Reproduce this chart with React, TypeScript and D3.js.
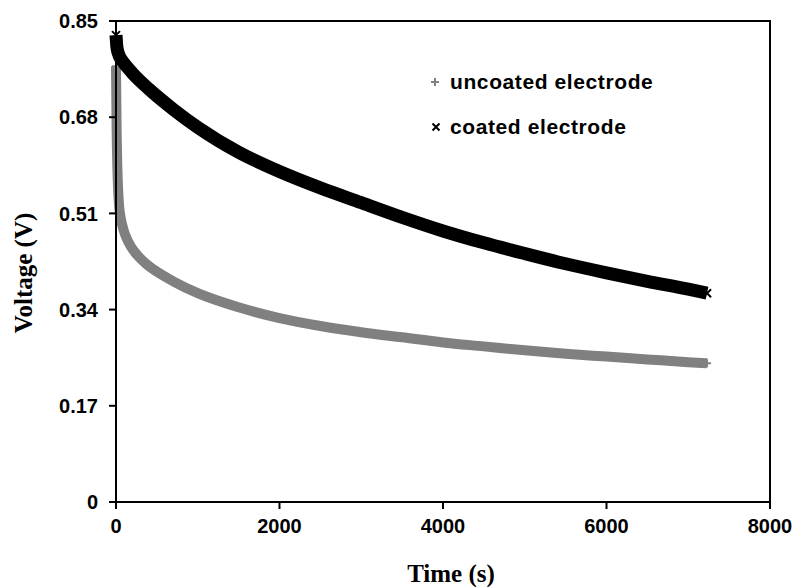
import React from "react";
import * as d3 from "d3";

const uncoatedTime = [0, 2, 4, 6, 8, 10, 13, 16, 20, 25, 30, 40, 60, 90, 130, 180, 250, 360, 500, 700, 1000, 1500, 2000, 2500, 3000, 3500, 4000, 4500, 5000, 5500, 6000, 6500, 7000, 7230];
const uncoatedVoltage = [0.77, 0.74, 0.71, 0.68, 0.655, 0.635, 0.615, 0.595, 0.575, 0.555, 0.54, 0.52, 0.5, 0.482, 0.466, 0.452, 0.438, 0.422, 0.407, 0.39, 0.369, 0.344, 0.325, 0.311, 0.3, 0.291, 0.282, 0.275, 0.268, 0.262, 0.257, 0.252, 0.247, 0.245];

const coatedTime = [0, 5, 10, 30, 60, 100, 200, 400, 700, 1000, 1500, 2000, 2500, 3000, 3500, 4000, 4500, 5000, 5500, 6000, 6500, 7000, 7230];
const coatedVoltage = [0.825, 0.815, 0.805, 0.792, 0.783, 0.775, 0.758, 0.73, 0.694, 0.662, 0.618, 0.584, 0.555, 0.529, 0.503, 0.479, 0.458, 0.439, 0.421, 0.405, 0.39, 0.376, 0.369];

const xTicks = [0, 2000, 4000, 6000, 8000];
const yTicks = [0, 0.17, 0.34, 0.51, 0.68, 0.85];
const yTickLabels = ["0", "0.17", "0.34", "0.51", "0.68", "0.85"];
const seriesNames = ["uncoated electrode", "coated electrode"];

const W = 796;
const H = 587;
const L = 116, R = 770, T = 21, B = 502;

export default function App() {
  const x = d3.scaleLinear().domain([0, 8000]).range([L, R]);
  const y = d3.scaleLinear().domain([0, 0.85]).range([B, T]);

  const unc = uncoatedTime.map((t, i) => [t, uncoatedVoltage[i]] as [number, number]);
  const coa = coatedTime.map((t, i) => [t, coatedVoltage[i]] as [number, number]);

  const line = d3
    .line<[number, number]>()
    .x((d) => x(d[0]))
    .y((d) => y(d[1]))
    .curve(d3.curveMonotoneX);

  const plus = (cx: number, cy: number, s: number) =>
    `M${cx - s},${cy}H${cx + s}M${cx},${cy - s}V${cy + s}`;
  const cross = (cx: number, cy: number, s: number) =>
    `M${cx - s},${cy - s}L${cx + s},${cy + s}M${cx - s},${cy + s}L${cx + s},${cy - s}`;

  const gray = "#808080";
  const tickFont = "'Liberation Sans', Arial, sans-serif";
  const titleFont = "'Liberation Serif', 'Times New Roman', serif";

  return (
    <svg
      width={W}
      height={H}
      style={{ position: "absolute", left: 0, top: 0, background: "#fff" }}
    >
      <rect x={0} y={0} width={W} height={H} fill="#fff" />
      {/* data: uncoated */}
      <path d={line(unc) || ""} fill="none" stroke={gray} strokeWidth={10} />
      {unc.map((d, i) => (
        <path key={"u" + i} d={plus(x(d[0]), y(d[1]), 4)} stroke={gray} strokeWidth={2} fill="none" />
      ))}
      {/* data: coated */}
      <path d={line(coa) || ""} fill="none" stroke="#000" strokeWidth={13} />
      {coa.map((d, i) => (
        <path key={"c" + i} d={cross(x(d[0]), y(d[1]), 4)} stroke="#000" strokeWidth={2} fill="none" />
      ))}

      {/* frame */}
      <rect x={L} y={T} width={R - L} height={B - T} fill="none" stroke="#000" strokeWidth={2} />

      {/* y ticks */}
      {yTicks.map((v, i) => (
        <g key={"yt" + i}>
          <line x1={L - 7} x2={L} y1={y(v)} y2={y(v)} stroke="#000" strokeWidth={2} />
          <text
            x={98}
            y={y(v)}
            dy="0.36em"
            textAnchor="end"
            fontFamily={tickFont}
            fontWeight="bold"
            fontSize={20}
          >
            {yTickLabels[i]}
          </text>
        </g>
      ))}

      {/* x ticks */}
      {xTicks.map((v, i) => (
        <g key={"xt" + i}>
          <line x1={x(v)} x2={x(v)} y1={B} y2={B + 7} stroke="#000" strokeWidth={2} />
          <text
            x={x(v)}
            y={533}
            textAnchor="middle"
            fontFamily={tickFont}
            fontWeight="bold"
            fontSize={20}
          >
            {v}
          </text>
        </g>
      ))}

      {/* axis titles */}
      <text x={451} y={582} textAnchor="middle" fontFamily={titleFont} fontWeight="bold" fontSize={25}>
        Time (s)
      </text>
      <text
        transform={`translate(32,273) rotate(-90)`}
        textAnchor="middle"
        fontFamily={titleFont}
        fontWeight="bold"
        fontSize={25}
      >
        Voltage (V)
      </text>

      {/* legend */}
      <path d={plus(435, 82, 4)} stroke={gray} strokeWidth={2} fill="none" />
      <text x={450} y={89} fontFamily={tickFont} fontWeight="bold" fontSize={21} letterSpacing={0.6}>
        {seriesNames[0]}
      </text>
      <path d={cross(436, 127, 3.5)} stroke="#000" strokeWidth={2} fill="none" />
      <text x={450} y={134} fontFamily={tickFont} fontWeight="bold" fontSize={21} letterSpacing={0.6}>
        {seriesNames[1]}
      </text>
    </svg>
  );
}
